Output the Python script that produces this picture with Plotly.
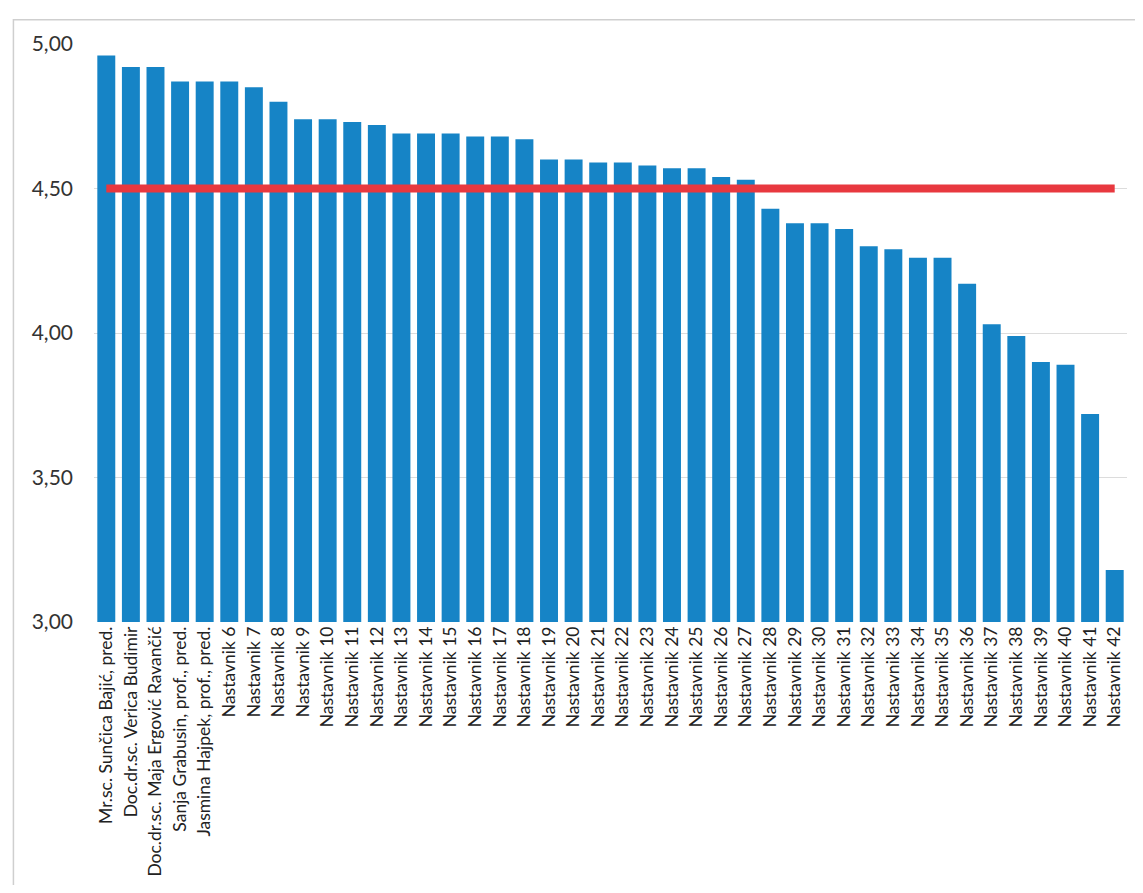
import plotly.graph_objects as go

categories = [
    "Mr.sc. Sunčica Bajić, pred.",
    "Doc.dr.sc. Verica Budimir",
    "Doc.dr.sc. Maja Ergović Ravančić",
    "Sanja Grabusin, prof., pred.",
    "Jasmina Hajpek, prof., pred.",
] + [f"Nastavnik {i}" for i in range(6, 43)]

ocjene = [
    4.96, 4.92, 4.92, 4.87, 4.87, 4.87, 4.85, 4.80, 4.74, 4.74,
    4.73, 4.72, 4.69, 4.69, 4.69, 4.68, 4.68, 4.67, 4.60, 4.60,
    4.59, 4.59, 4.58, 4.57, 4.57, 4.54, 4.53, 4.43, 4.38, 4.38,
    4.36, 4.30, 4.29, 4.26, 4.26, 4.17, 4.03, 3.99, 3.90, 3.89,
    3.72, 3.18,
]

prosjek = 4.50

y_ticks = [3.0, 3.5, 4.0, 4.5, 5.0]
y_tick_labels = ["3,00", "3,50", "4,00", "4,50", "5,00"]

fig = go.Figure()
fig.add_trace(go.Bar(
    x=categories, y=ocjene,
    marker=dict(color="#1684c6", line=dict(width=0)),
))
fig.add_trace(go.Scatter(
    x=[categories[0], categories[-1]], y=[prosjek, prosjek],
    mode="lines", line=dict(color="#e8383f", width=8),
))

# page body has an 8px default margin, so the figure is sized/offset accordingly
fig.update_layout(
    width=1127, height=877,
    margin=dict(l=86, r=8, t=36, b=263, autoexpand=False),
    paper_bgcolor="white", plot_bgcolor="white",
    showlegend=False,
    bargap=0.27,
    font=dict(family="Lato", color="#333333"),
    shapes=[dict(
        type="rect", xref="paper", yref="paper",
        x0=-0.078, x1=1.05, y0=-0.46, y1=1.042,
        line=dict(color="#cfcfcf", width=1.5), layer="below",
    )],
)
fig.update_xaxes(
    type="category", tickangle=-90, tickfont=dict(size=17.5, family="Lato", color="#222222"),
    showgrid=False, showline=False, ticks="", automargin=False,
)
fig.update_yaxes(
    range=[3, 5], tickvals=y_ticks, ticktext=y_tick_labels,
    tickfont=dict(size=21, family="Lato", color="#333333"),
    showgrid=True, gridcolor="#dcdcdc", gridwidth=1,
    zeroline=False, showline=False, ticks="", ticklabelstandoff=20, automargin=False,
)

fig.write_html("out.html")
